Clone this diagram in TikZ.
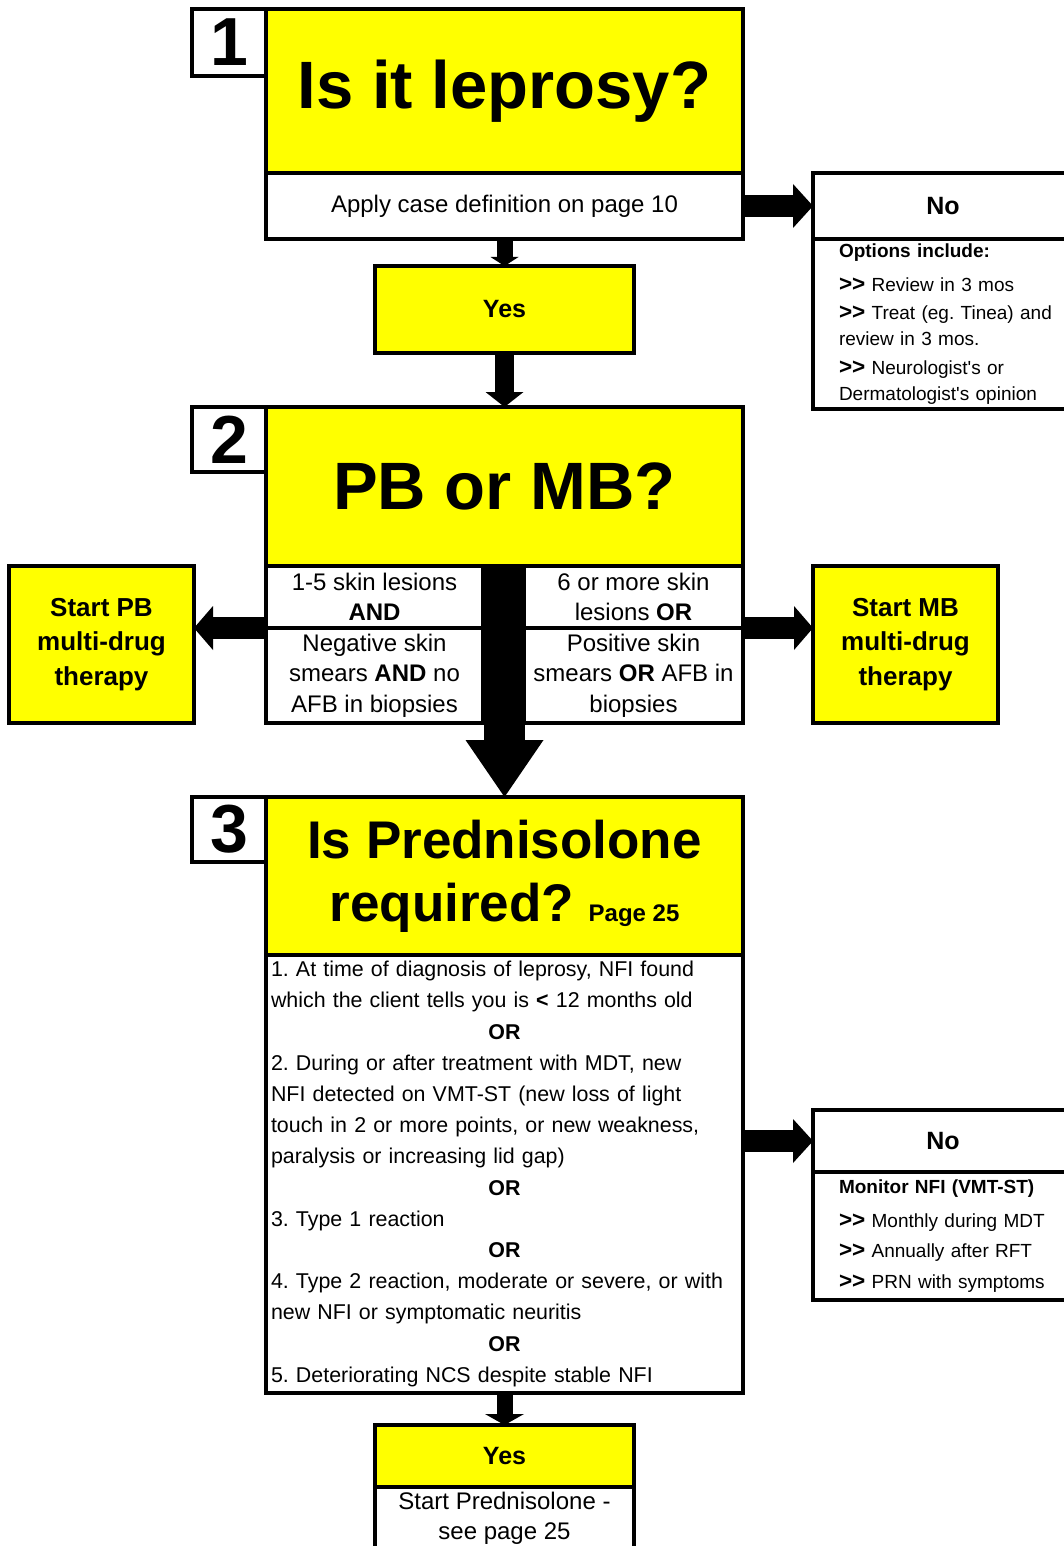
\documentclass[tikz,border=0pt]{standalone}
\usepackage{fontspec}
\setmainfont{Liberation Sans}[Ligatures=TeXOff]
\usetikzlibrary{arrows.meta}
\frenchspacing
\newcommand\qfont{\fontsize{67}{70}\selectfont\bfseries}
\newcommand\numfont{\fontsize{68}{68}\selectfont\bfseries}
\newcommand\txtfont{\fontsize{24}{30.5}\selectfont}
\newcommand\lblfont{\fontsize{25}{30}\selectfont\bfseries}
\newcommand\chev{{\fontsize{22.5}{26}\selectfont\bfseries >{}>}}
\newcommand\orline{\makebox[\linewidth]{\textbf{OR}}}
\begin{document}
\begin{tikzpicture}[x=1pt,y=-1pt,
  box/.style={draw,line width=4pt,inner sep=0pt,outer sep=0pt,anchor=north west,align=center},
  ybox/.style={box,fill=leproyellow},
  wbox/.style={box,fill=white},
  numbox/.style={wbox,minimum width=74pt,minimum height=66pt,font=\numfont},
  blockarrow/.style n args={3}{line width=#1,-{Triangle[width=#2,length=#3,line width=0pt]}}]
  \definecolor{leproyellow}{HTML}{FFFF00}
  \useasboundingbox (0,0) rectangle (1064,1546);
  % step 1
  \node[numbox,minimum height=67pt] (n1) at (192,9) {1};
  \node[ybox,minimum width=477pt,minimum height=164pt,font=\qfont] (q1) at (266,9) {Is it leprosy?};
  \node[wbox,minimum width=477pt,minimum height=66pt,font=\txtfont] (apply) at (266,173) {Apply case definition on page 10};
  \node[ybox,minimum width=259pt,minimum height=87pt,font=\lblfont] (yes1) at (375,266) {Yes};
  \node[wbox,minimum width=260pt,minimum height=66pt,font=\lblfont] (no1) at (813,173) {No};
  \node[wbox,minimum width=260pt,minimum height=170pt,text width=221pt,inner xsep=26pt,align=left,
    font=\fontsize{19}{26}\selectfont] (no1opts) at (813,239)
    {\textbf{Options include:}\\[8pt]
     \chev{} Review in 3 mos\\[2pt]
     \chev{} Treat (eg. Tinea) and\\
     review in 3 mos.\\[3pt]
     \chev{} Neurologist's or\\
     Dermatologist's opinion};
  % step 2
  \node[numbox,minimum height=65pt] (n2) at (192,407) {2};
  \node[ybox,minimum width=477pt,minimum height=159pt,font=\qfont] (q2) at (266,407) {PB or MB?};
  \node[wbox,minimum width=217pt,minimum height=62pt,font=\txtfont] (pbcrit1) at (266,566) {1-5 skin lesions\\\textbf{AND}};
  \node[wbox,minimum width=217pt,minimum height=95pt,font=\txtfont] (pbcrit2) at (266,628) {Negative skin\\smears \textbf{AND} no\\AFB in biopsies};
  \node[wbox,minimum width=219pt,minimum height=62pt,font=\txtfont] (mbcrit1) at (524,566) {6 or more skin\\lesions \textbf{OR}};
  \node[wbox,minimum width=219pt,minimum height=95pt,font=\txtfont] (mbcrit2) at (524,628) {Positive skin\\smears \textbf{OR} AFB in\\biopsies};
  \node[ybox,minimum width=185pt,minimum height=157pt,font=\fontsize{26}{34.5}\selectfont\bfseries] (pb) at (9,566) {Start PB\\multi-drug\\therapy};
  \node[ybox,minimum width=185pt,minimum height=157pt,font=\fontsize{26}{34.5}\selectfont\bfseries] (mb) at (813,566) {Start MB\\multi-drug\\therapy};
  % step 3
  \node[numbox,minimum height=65pt] (n3) at (192,797) {3};
  \node[ybox,minimum width=477pt,minimum height=158pt,font=\fontsize{53}{63}\selectfont\bfseries] (q3) at (266,797)
    {Is Prednisolone\\required? {\fontsize{24}{24}\selectfont Page 25}};
  \node[wbox,minimum width=477pt,minimum height=438pt,text width=467pt,inner xsep=5pt,align=left,
    font=\fontsize{21.4}{31.2}\selectfont] (crit) at (266,955)
    {1. At time of diagnosis of leprosy, NFI found\\
     which the client tells you is \textbf{<} 12 months old\\
     \orline\\
     2. During or after treatment with MDT, new\\
     NFI detected on VMT-ST (new loss of light\\
     touch in 2 or more points, or new weakness,\\
     paralysis or increasing lid gap)\\
     \orline\\
     3. Type 1 reaction\\
     \orline\\
     4. Type 2 reaction, moderate or severe, or with\\
     new NFI or symptomatic neuritis\\
     \orline\\
     5. Deteriorating NCS despite stable NFI};
  \node[wbox,minimum width=260pt,minimum height=62pt,font=\lblfont] (no2) at (813,1110) {No};
  \node[wbox,minimum width=260pt,minimum height=128pt,text width=221pt,inner xsep=26pt,align=left,
    font=\fontsize{19}{30.5}\selectfont] (no2mon) at (813,1172)
    {\textbf{Monitor NFI (VMT-ST)}\\[3.5pt]
     \chev{} Monthly during MDT\\
     \chev{} Annually after RFT\\
     \chev{} PRN with symptoms};
  \node[ybox,minimum width=259pt,minimum height=62pt,font=\lblfont] (yes2) at (375,1425) {Yes};
  \node[wbox,minimum width=259pt,minimum height=62pt,font=\fontsize{24}{30}\selectfont] (yes2txt) at (375,1487)
    {Start Prednisolone -\\see page 25};
  % arrows
  \draw[blockarrow={16pt}{28pt}{9pt}] (apply.south) -- (yes1.north);
  \draw[blockarrow={19pt}{38pt}{15pt}] (yes1.south) -- (q2.north);
  \draw[blockarrow={22pt}{44pt}{20pt}] (apply.east) -- (no1.west);
  \draw[blockarrow={22pt}{44pt}{19pt}] (pbcrit1.south west) -- (pbcrit1.south west -| pb.east);
  \draw[blockarrow={22pt}{44pt}{19pt}] (mbcrit1.south east) -- (mbcrit1.south east -| mb.west);
  \draw[blockarrow={41pt}{78pt}{57pt}] (q2.south) -- (q3.north);
  \draw[blockarrow={22pt}{44pt}{20pt}] (crit.east |- no2.west) -- (no2.west);
  \draw[blockarrow={16pt}{39pt}{11pt}] (crit.south) -- (yes2.north);
\end{tikzpicture}
\end{document}
